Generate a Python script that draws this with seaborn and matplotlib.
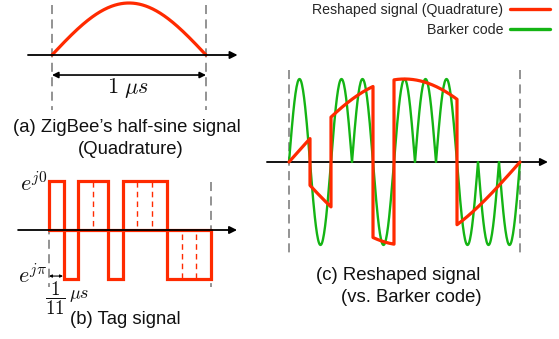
import numpy as np
import pandas as pd
import matplotlib
matplotlib.use("Agg")
import matplotlib.pyplot as plt
from matplotlib.lines import Line2D
import seaborn as sns

# ---------------- data ----------------
barker_chips = [1, -1, 1, 1, -1, 1, 1, 1, -1, -1, -1]   # 11-chip Barker code / tag signal
symbol_duration_us = 1.0                               # ZigBee half-sine duration
samples_per_chip = 40

caption_a = ["(a) ZigBee\u2019s half-sine signal", "(Quadrature)"]
caption_b = "(b) Tag signal"
caption_c = ["(c) Reshaped signal", "(vs. Barker code)"]
legend_labels = ["Reshaped signal (Quadrature)", "Barker code"]
level_labels = [r"$e^{j0}$", r"$e^{j\pi}$"]
duration_label = r"$1\ \mu s$"
chip_fraction = r"$\dfrac{1}{11}$"
chip_unit = r"$\mu s$"

RED = "#ff2a00"
GREEN = "#14b414"
GREY = "#8a8a8a"

sns.set_theme(style="white")
plt.rcParams["font.family"] = ["Liberation Sans", "DejaVu Sans"]
plt.rcParams["mathtext.fontset"] = "cm"

W, H = 559, 339
fig = plt.figure(figsize=(W / 100, H / 100), dpi=100)
fig.patch.set_facecolor("white")


def panel(box, origin, sx, sy):
    l, t, r, b = box
    ax = fig.add_axes([l / W, 1 - b / H, (r - l) / W, (b - t) / H])
    ax.set_xlim((l - origin[0]) / sx, (r - origin[0]) / sx)
    ax.set_ylim((origin[1] - b) / sy, (origin[1] - t) / sy)
    ax.axis("off")
    return ax


def ftext(px, py, s, size, ha="center"):
    fig.text(px / W, 1 - py / H, s, fontsize=size, ha=ha, va="center", color="#111111")


def arrow(ax, x0, x1, y, style="-|>", ms=11, lw=1.3, z=5):
    ax.annotate("", xy=(x1, y), xytext=(x0, y),
                arrowprops=dict(arrowstyle=style, color="black", lw=lw,
                                mutation_scale=ms, shrinkA=0, shrinkB=0),
                zorder=z, annotation_clip=False)


def vdash(ax, x, y0, y1, color=GREY, lw=1.3, dashes=(5, 3), z=1):
    ax.vlines(x, y0, y1, colors=color, lw=lw, linestyles=[(0, dashes)], zorder=z)


n = len(barker_chips)

# ---------------- (a) half-sine ----------------
ax_a = panel((0, 0, 250, 115), (52, 55), 154, 52)
t_a = np.linspace(0, symbol_duration_us, 200)
df_a = pd.DataFrame({"t": t_a, "v": np.sin(np.pi * t_a / symbol_duration_us)})
sns.lineplot(data=df_a, x="t", y="v", ax=ax_a, color=RED, lw=2.3,
             sort=False, estimator=None, zorder=3, clip_on=False)
for xv in (0, symbol_duration_us):
    vdash(ax_a, xv, 0.96, -1.06)
arrow(ax_a, -0.156, 1.205, 0)
arrow(ax_a, 0, symbol_duration_us, -0.385, style="<|-|>", ms=9, lw=1.2)
ax_a.set_xlabel(""); ax_a.set_ylabel("")

# ---------------- (b) tag signal ----------------
ax_b = panel((0, 165, 250, 295), (49, 230), 162 / 11, 49)
xs, ys = [0], [0]
for k, c in enumerate(barker_chips):
    xs += [k, k + 1]
    ys += [c, c]
xs.append(n); ys.append(0)
df_b = pd.DataFrame({"t": xs, "v": ys})
sns.lineplot(data=df_b, x="t", y="v", ax=ax_b, color=RED, lw=2.3,
             sort=False, estimator=None, zorder=3)
ax_b.lines[-1].set_solid_joinstyle("miter")
sns.lineplot(x=[0, n], y=[0, 0], ax=ax_b, color=RED, lw=2.3, zorder=3)
for k in range(1, n):
    if barker_chips[k] == barker_chips[k - 1]:
        c = barker_chips[k]
        vdash(ax_b, k, 0.08 * c, 0.97 * c, color=RED, lw=1.0, dashes=(4, 3), z=2)
for xv in (0, n):
    vdash(ax_b, xv, 0.98, -1.16)
arrow(ax_b, -2.1, 12.77, 0, z=6)
arrow(ax_b, 0, 0.95, -0.94, style="<|-|>", ms=4, lw=0.8)
ax_b.set_xlabel(""); ax_b.set_ylabel("")

# ---------------- (c) reshaped vs Barker ----------------
ax_c = panel((262, 60, 559, 262), (289, 162), 21, 83)
t_parts, red_parts, green_parts = [], [], []
for k, c in enumerate(barker_chips):
    tt = np.linspace(k, k + 1, samples_per_chip)
    t_parts.append(tt)
    green_parts.append(c * np.sin(np.pi * (tt - k)))
    red_parts.append(c * np.sin(np.pi * tt / n))
t_c = np.concatenate(t_parts)
df_c = pd.DataFrame({"t": t_c, "barker": np.concatenate(green_parts),
                     "reshaped": np.concatenate(red_parts)})
vdash(ax_c, 0, 1.11, -1.10)
vdash(ax_c, n, 1.11, -1.10)
arrow(ax_c, -1.05, 12.33, 0, z=2)
sns.lineplot(data=df_c, x="t", y="barker", ax=ax_c, color=GREEN, lw=1.7,
             sort=False, estimator=None, zorder=3)
sns.lineplot(data=df_c, x="t", y="reshaped", ax=ax_c, color=RED, lw=2.3,
             sort=False, estimator=None, zorder=4)
ax_c.set_xlabel(""); ax_c.set_ylabel("")

# ---------------- legend ----------------
handles = [Line2D([], [], color=RED, lw=2.4), Line2D([], [], color=GREEN, lw=2.4)]
fig.legend(handles, legend_labels, loc="upper right", bbox_to_anchor=(550 / W, 1 - 3 / H),
           frameon=False, markerfirst=False, fontsize=10.2, handlelength=2.8,
           handletextpad=0.5, labelspacing=0.45, borderpad=0, borderaxespad=0)

# ---------------- texts ----------------
ftext(126.5, 128, caption_a[0], 13.3)
ftext(131, 150, caption_a[1], 13.3)
ftext(128, 88, duration_label, 16)
ftext(125.5, 320, caption_b, 13.3)
ftext(398, 275, caption_c[0], 13.3)
ftext(411, 298, caption_c[1], 13.3)
ftext(34, 184, level_labels[0], 16)
ftext(33, 276, level_labels[1], 16)
ftext(55.5, 298, chip_fraction, 13.5)
ftext(79, 295, chip_unit, 13)

fig.savefig("out.png", dpi=100, facecolor="white")
